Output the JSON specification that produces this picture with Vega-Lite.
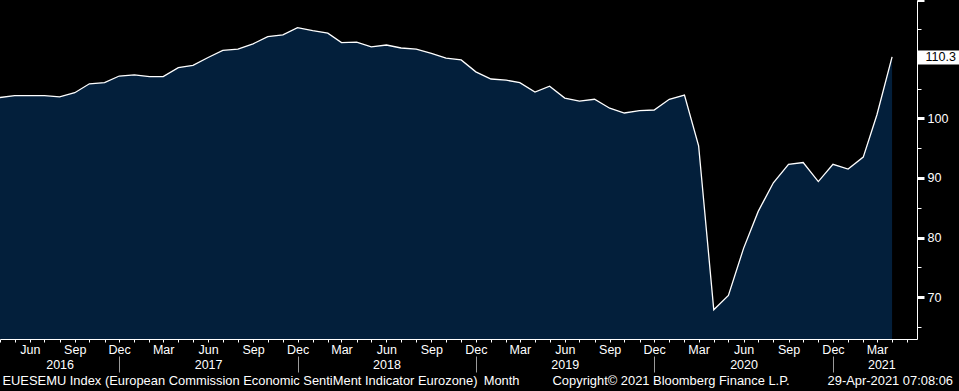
{
  "$schema": "https://vega.github.io/schema/vega-lite/v6.json",
  "width": 917,
  "height": 339,
  "autosize": {"type": "none"},
  "padding": {"left": 0, "top": 0, "right": 42, "bottom": 52},
  "background": "#000000",
  "config": {
    "view": {"stroke": null},
    "font": "Liberation Sans",
    "axis": {"labelFont": "Liberation Sans", "labelFontSize": 12.5, "labelColor": "#ffffff", "grid": false, "title": null, "labelFlush": false, "labelOverlap": false, "labelBound": false, "labelLimit": 2000}
  },
  "data": {"values": [
    {"date": "2016-04-01", "value": 103.5},
    {"date": "2016-05-01", "value": 103.8},
    {"date": "2016-06-01", "value": 103.8},
    {"date": "2016-07-01", "value": 103.8},
    {"date": "2016-08-01", "value": 103.6},
    {"date": "2016-09-01", "value": 104.3},
    {"date": "2016-10-01", "value": 105.8},
    {"date": "2016-11-01", "value": 106.0},
    {"date": "2016-12-01", "value": 107.1},
    {"date": "2017-01-01", "value": 107.3},
    {"date": "2017-02-01", "value": 107.0},
    {"date": "2017-03-01", "value": 107.0},
    {"date": "2017-04-01", "value": 108.5},
    {"date": "2017-05-01", "value": 108.9},
    {"date": "2017-06-01", "value": 110.2},
    {"date": "2017-07-01", "value": 111.4},
    {"date": "2017-08-01", "value": 111.6},
    {"date": "2017-09-01", "value": 112.5},
    {"date": "2017-10-01", "value": 113.7},
    {"date": "2017-11-01", "value": 114.0},
    {"date": "2017-12-01", "value": 115.2},
    {"date": "2018-01-01", "value": 114.7},
    {"date": "2018-02-01", "value": 114.3},
    {"date": "2018-03-01", "value": 112.7},
    {"date": "2018-04-01", "value": 112.8},
    {"date": "2018-05-01", "value": 112.0},
    {"date": "2018-06-01", "value": 112.3},
    {"date": "2018-07-01", "value": 111.8},
    {"date": "2018-08-01", "value": 111.6},
    {"date": "2018-09-01", "value": 110.9},
    {"date": "2018-10-01", "value": 110.1},
    {"date": "2018-11-01", "value": 109.8},
    {"date": "2018-12-01", "value": 107.8},
    {"date": "2019-01-01", "value": 106.6},
    {"date": "2019-02-01", "value": 106.4},
    {"date": "2019-03-01", "value": 106.0},
    {"date": "2019-04-01", "value": 104.4},
    {"date": "2019-05-01", "value": 105.4},
    {"date": "2019-06-01", "value": 103.4},
    {"date": "2019-07-01", "value": 102.9},
    {"date": "2019-08-01", "value": 103.2},
    {"date": "2019-09-01", "value": 101.7},
    {"date": "2019-10-01", "value": 100.9},
    {"date": "2019-11-01", "value": 101.3},
    {"date": "2019-12-01", "value": 101.4},
    {"date": "2020-01-01", "value": 103.2},
    {"date": "2020-02-01", "value": 103.9},
    {"date": "2020-03-01", "value": 95.4},
    {"date": "2020-04-01", "value": 67.9},
    {"date": "2020-05-01", "value": 70.3},
    {"date": "2020-06-01", "value": 78.2},
    {"date": "2020-07-01", "value": 84.4},
    {"date": "2020-08-01", "value": 89.2},
    {"date": "2020-09-01", "value": 92.3},
    {"date": "2020-10-01", "value": 92.6},
    {"date": "2020-11-01", "value": 89.4},
    {"date": "2020-12-01", "value": 92.3},
    {"date": "2021-01-01", "value": 91.5},
    {"date": "2021-02-01", "value": 93.5},
    {"date": "2021-03-01", "value": 100.6},
    {"date": "2021-04-01", "value": 110.3}
  ]},
  "resolve": {"axis": {"x": "independent", "y": "independent"}},
  "layer": [
    {
      "mark": {"type": "area", "color": "#031F3B"},
      "encoding": {
        "x": {"field": "date", "type": "temporal",
          "scale": {"type": "utc", "domain": [{"year": 2016, "month": 4, "date": 1, "utc": true}, {"year": 2021, "month": 5, "date": 22, "utc": true}]},
          "axis": {"orient": "bottom", "tickCount": {"interval": "month", "step": 1}, "tickColor": "#ffffff", "tickSize": 3, "domainColor": "#ffffff", "labelPadding": 1,
            "labelExpr": "utcmonth(datum.value) % 3 == 2 ? utcFormat(datum.value, '%b') : ''"}},
        "y": {"field": "value", "type": "quantitative",
          "scale": {"domain": [63, 119.85], "zero": false, "nice": false},
          "axis": {"orient": "right", "values": [70, 80, 90, 100, 110, 119.8], "tickColor": "#ffffff", "tickSize": 7, "tickWidth": 3, "domainColor": "#ffffff", "labelPadding": 3,
            "labelExpr": "datum.value <= 100 ? datum.label : ''"}},
        "y2": {"datum": 63}
      }
    },
    {
      "mark": {"type": "line", "color": "#ffffff", "strokeWidth": 1.3},
      "encoding": {
        "x": {"field": "date", "type": "temporal", "axis": null},
        "y": {"field": "value", "type": "quantitative", "axis": null}
      }
    },
    {
      "mark": {"type": "line", "opacity": 0},
      "encoding": {
        "x": {"field": "date", "type": "temporal",
          "axis": {"orient": "bottom", "domain": false, "ticks": false, "tickSize": 0, "labelPadding": 19,
            "values": [{"year": 2016, "month": 8, "date": 1, "utc": true}, {"year": 2017, "month": 6, "date": 1, "utc": true}, {"year": 2018, "month": 6, "date": 1, "utc": true}, {"year": 2019, "month": 6, "date": 1, "utc": true}, {"year": 2020, "month": 6, "date": 1, "utc": true}, {"year": 2021, "month": 3, "date": 10, "utc": true}],
            "labelExpr": "utcFormat(datum.value, '%Y')"}},
        "y": {"field": "value", "type": "quantitative",
          "axis": {"orient": "right", "domain": false, "labels": false, "values": [65, 75, 85, 95, 105, 115], "tickColor": "#ffffff", "tickSize": 4, "tickWidth": 1}}
      }
    },
    {
      "mark": {"type": "line", "opacity": 0},
      "encoding": {
        "x": {"field": "date", "type": "temporal",
          "axis": {"orient": "bottom", "domain": false, "labels": false, "offset": 17, "tickColor": "#9a9a9a", "tickSize": 16, "tickWidth": 1,
            "values": [{"year": 2016, "month": 12, "date": 1, "utc": true}, {"year": 2017, "month": 12, "date": 1, "utc": true}, {"year": 2018, "month": 12, "date": 1, "utc": true}, {"year": 2019, "month": 12, "date": 1, "utc": true}, {"year": 2020, "month": 12, "date": 1, "utc": true}]}},
        "y": {"field": "value", "type": "quantitative",
          "axis": {"orient": "right", "domain": false, "values": [110.3], "format": ".1f", "tickColor": "#ffffff", "tickSize": 42, "tickWidth": 14, "labelColor": "#000000", "labelPadding": -34}}
      }
    },
    {
      "mark": {"type": "line", "opacity": 0},
      "encoding": {
        "x": {"field": "date", "type": "temporal",
          "axis": {"orient": "bottom", "domain": false, "ticks": false, "tickSize": 0, "labelPadding": 35, "labelAlign": "left", "labelFontSize": 12.9,
            "values": [{"year": 2016, "month": 4, "date": 5, "utc": true}, {"year": 2018, "month": 12, "date": 16, "utc": true}, {"year": 2019, "month": 5, "date": 6, "utc": true}, {"year": 2020, "month": 11, "date": 19, "utc": true}],
            "labelExpr": "utcyear(datum.value) == 2016 ? 'EUESEMU Index (European Commission Economic SentiMent Indicator Eurozone)' : utcyear(datum.value) == 2018 ? 'Month' : utcyear(datum.value) == 2019 ? 'Copyright© 2021 Bloomberg Finance L.P.' : '29-Apr-2021 07:08:06'"}},
        "y": {"field": "value", "type": "quantitative", "axis": null}
      }
    }
  ]
}
